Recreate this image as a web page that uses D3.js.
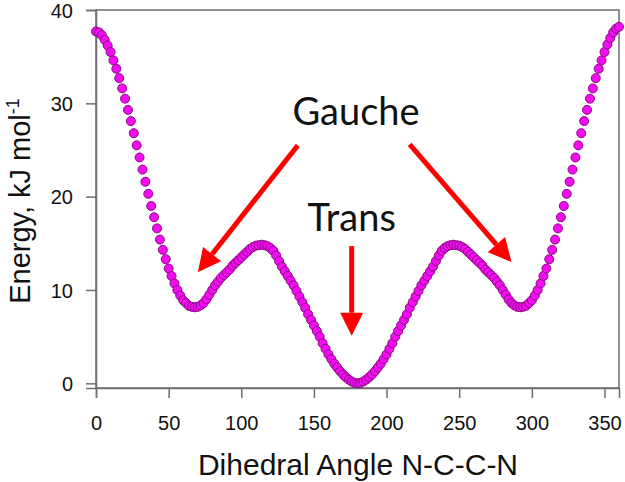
<!DOCTYPE html>
<html>
<head>
<meta charset="utf-8">
<script src="https://cdn.jsdelivr.net/npm/d3@7"></script>
<style>
  body { margin: 0; background: #fff; }
  text { font-family: "Liberation Sans", Arial, sans-serif; }
</style>
</head>
<body>
<div id="canvas"></div>
<script>
// dihedral angle, degrees (2 degree steps)
const angles = d3.range(0, 361, 2);
// energy, kJ/mol
const energy = [
  37.7, 37.6, 37.3, 36.8, 36.2, 35.5, 34.6, 33.7, 32.7, 31.6,
  30.5, 29.3, 28.1, 26.8, 25.5, 24.2, 22.9, 21.6, 20.3, 19.0,
  17.8, 16.6, 15.4, 14.3, 13.3, 12.3, 11.5, 10.7, 10.0, 9.4,
  8.9, 8.6, 8.3, 8.2, 8.15, 8.2, 8.35, 8.6, 9.0, 9.5,
  10.0, 10.5, 10.9, 11.3, 11.6, 11.9, 12.2, 12.6, 12.9, 13.2,
  13.5, 13.8, 14.1, 14.4, 14.6, 14.75, 14.8, 14.85, 14.8, 14.7,
  14.5, 14.2, 13.7, 13.1, 12.5, 12.0, 11.5, 11.0, 10.5, 9.9,
  9.3, 8.7, 8.1, 7.4, 6.8, 6.2, 5.6, 5.0, 4.3, 3.7,
  3.1, 2.6, 2.1, 1.7, 1.3, 0.95, 0.65, 0.4, 0.2, 0.05,
  0.0,
  0.05, 0.2, 0.4, 0.65, 0.95, 1.3, 1.7, 2.1, 2.6, 3.1,
  3.7, 4.3, 5.0, 5.6, 6.2, 6.8, 7.4, 8.1, 8.7, 9.3,
  9.9, 10.5, 11.0, 11.5, 12.0, 12.5, 13.1, 13.7, 14.2, 14.5,
  14.7, 14.8, 14.85, 14.8, 14.75, 14.6, 14.4, 14.1, 13.8, 13.5,
  13.2, 12.9, 12.6, 12.2, 11.9, 11.6, 11.3, 10.9, 10.5, 10.0,
  9.5, 9.0, 8.6, 8.35, 8.2, 8.15, 8.2, 8.3, 8.6, 8.9,
  9.4, 10.0, 10.7, 11.5, 12.3, 13.3, 14.3, 15.4, 16.6, 17.8,
  19.0, 20.3, 21.6, 22.9, 24.2, 25.5, 26.8, 28.1, 29.3, 30.5,
  31.6, 32.7, 33.7, 34.6, 35.5, 36.3, 37.0, 37.6, 38.0, 38.2,
  37.9
];
const xTicks = [0, 50, 100, 150, 200, 250, 300, 350];
const yTicks = [0, 10, 20, 30, 40];

// annotation labels and arrows (data coordinates: [angle, energy])
const labels = [
  {text: "Gauche", x: 179, y: 27.7},
  {text: "Trans", x: 176, y: 16.3}
];
const arrows = [
  {from: [138.9, 25.5], to: [70.1, 11.9]},
  {from: [215.9, 25.6], to: [286.0, 13.0]},
  {from: [176.0, 14.7], to: [176.0, 5.1]}
];

const width = 625;
const height = 482;
const margin = {top: 10, left: 96, bottom: 94, right: 6};
const iwidth = width - margin.left - margin.right;
const iheight = height - margin.top - margin.bottom;

const svg = d3.select("#canvas").append("svg")
  .attr("width", width)
  .attr("height", height);

const g = svg.append("g").attr("transform", `translate(${margin.left},${margin.top})`);

const x = d3.scaleLinear().domain([0, 360]).range([0, iwidth]);
const y = d3.scaleLinear().domain([-0.5, 40]).range([iheight, 0]);

const axisColor = "#6e6e6e";

// frame
g.append("rect")
  .attr("width", iwidth).attr("height", iheight)
  .attr("fill", "none").attr("stroke", axisColor).attr("stroke-width", 1.5);

const xAxis = g.append("g")
  .attr("transform", `translate(0,${iheight})`)
  .call(d3.axisBottom(x).tickValues(xTicks).tickSize(10).tickPadding(18));
const yAxis = g.append("g")
  .call(d3.axisLeft(y).tickValues(yTicks).tickSize(10).tickPadding(13));

[xAxis, yAxis].forEach(ax => {
  ax.select(".domain").attr("stroke", axisColor).attr("stroke-width", 1.5);
  ax.selectAll(".tick line").attr("stroke", axisColor).attr("stroke-width", 1.5);
  ax.selectAll(".tick text").attr("fill", "#111").style("font-size", "20px")
    .style("font-family", "'Liberation Sans', Arial, sans-serif");
});
yAxis.selectAll(".tick text").attr("dy", "0.36em");

// markers
const pts = angles.map((a, i) => ({a: a, e: energy[i]}));
g.selectAll("circle.pt").data(pts).enter().append("circle")
  .attr("class", "pt")
  .attr("cx", d => x(d.a))
  .attr("cy", d => y(d.e))
  .attr("r", 4.5)
  .attr("fill", "#f20cf2")
  .attr("stroke", "#8a0a80")
  .attr("stroke-width", 1);

// arrows
arrows.forEach(ar => {
  const x0 = x(ar.from[0]), y0 = y(ar.from[1]);
  const x1 = x(ar.to[0]), y1 = y(ar.to[1]);
  const ang = Math.atan2(y1 - y0, x1 - x0);
  const headLen = 23, headW = 11.5;
  const bx = x1 - headLen * Math.cos(ang), by = y1 - headLen * Math.sin(ang);
  g.append("line")
    .attr("x1", x0).attr("y1", y0).attr("x2", bx).attr("y2", by)
    .attr("stroke", "#ff0000").attr("stroke-width", 5);
  g.append("polygon")
    .attr("points", [
      [x1, y1],
      [bx + headW * Math.sin(ang), by - headW * Math.cos(ang)],
      [bx - headW * Math.sin(ang), by + headW * Math.cos(ang)]
    ].map(p => p.join(",")).join(" "))
    .attr("fill", "#ff0000");
});

g.selectAll("text.lab").data(labels).enter().append("text")
  .attr("class", "lab")
  .attr("x", d => x(d.x))
  .attr("y", d => y(d.y))
  .attr("text-anchor", "middle")
  .style("font-family", "Lato, 'Open Sans', sans-serif")
  .style("font-size", "38px")
  .attr("fill", "#111")
  .text(d => d.text);

// axis titles
svg.append("text")
  .attr("x", 358)
  .attr("y", 475)
  .attr("text-anchor", "middle")
  .style("font-size", "30px")
  .attr("fill", "#111")
  .text("Dihedral Angle N-C-C-N");

const yt = svg.append("text")
  .attr("transform", "translate(30,201) rotate(-90)")
  .attr("text-anchor", "middle")
  .style("font-size", "29px")
  .attr("fill", "#111");
yt.append("tspan").text("Energy, kJ mol");
yt.append("tspan").attr("dy", "-0.6em").style("font-size", "18px").text("-1");
</script>
</body>
</html>
